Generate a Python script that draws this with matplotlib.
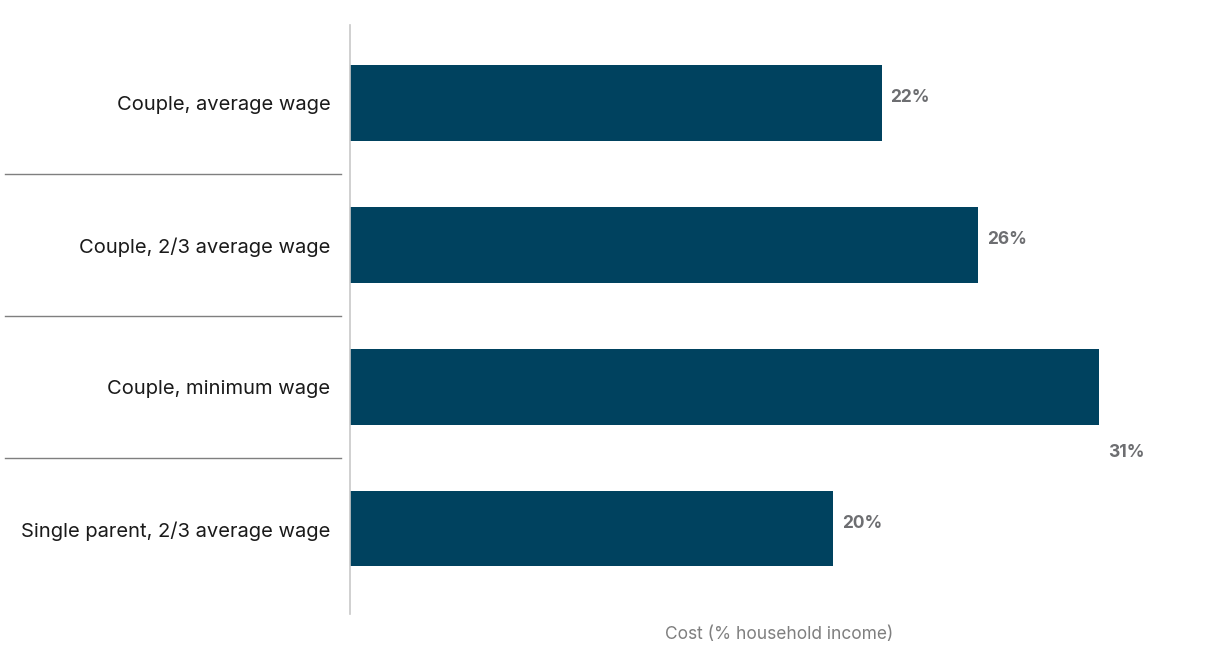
import matplotlib.pyplot as plt
import matplotlib.transforms as mtransforms

# data
categories = ['Couple, average wage', 'Couple, 2/3 average wage',
              'Couple, minimum wage', 'Single parent, 2/3 average wage']
values = [22, 26, 31, 20]
labels = ['22%', '26%', '31%', '20%']

plt.rcParams['font.family'] = ['Inter', 'DejaVu Sans']

fig = plt.figure(figsize=(12.08, 6.47), dpi=100)
ax = fig.add_axes([350 / 1208, 33 / 647, 858 / 1208, 589 / 647])

y = list(range(len(categories)))
ax.barh(y, values, height=0.53, color='#00425f')

ax.set_xlim(0, 35.5)
ax.set_ylim(3.6, -0.55)

# value labels (the 31% one sits below its bar in the original)
for i, (v, lab) in enumerate(zip(values, labels)):
    dy = 0.46 if i == 2 else -0.04
    ax.text(v + 0.35, i + dy, lab, ha='left', va='center',
            fontsize=12.5, fontweight='bold', color='#6d6e71')

ax.set_yticks(y)
ax.set_yticklabels(categories, fontsize=14.5, color='#1a1a1a')
ax.tick_params(axis='y', length=0, pad=14)
ax.set_xticks([])

for s in ['top', 'right', 'bottom']:
    ax.spines[s].set_visible(False)
ax.spines['left'].set_color('#c8c8c8')
ax.spines['left'].set_linewidth(1.2)

# separators between categories
trans = mtransforms.blended_transform_factory(ax.transAxes, ax.transData)
for yy in [0.5, 1.5, 2.5]:
    ax.plot([-345 / 858, -9 / 858], [yy, yy], transform=trans,
            color='#7f7f7f', linewidth=1, clip_on=False)

ax.set_xlabel('Cost (% household income)', fontsize=12.5, color='#7f7f7f', labelpad=0)
ax.xaxis.set_label_coords(0.5, -0.02)

fig.savefig('out.png', dpi=100)
